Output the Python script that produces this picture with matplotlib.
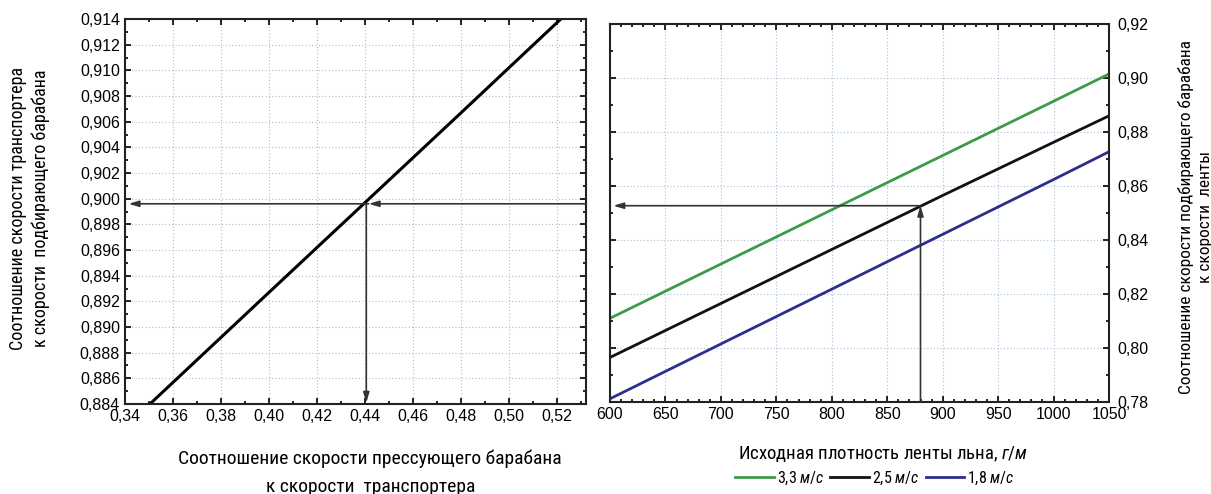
import matplotlib
matplotlib.use('Agg')
import matplotlib.pyplot as plt
from matplotlib import font_manager
from matplotlib.ticker import MultipleLocator, FuncFormatter

# left chart: picker drum / conveyor vs pressing drum / conveyor
ratio_press = [0.3504, 0.40, 0.44, 0.48, 0.5215]
ratio_pick = [0.8840, 0.8927, 0.8997, 0.9067, 0.9140]

# right chart: picker drum / tape vs initial tape density
density = [600, 700, 800, 900, 1000, 1050]
v33 = [0.8110, 0.8311, 0.8512, 0.8713, 0.8914, 0.9015]
v25 = [0.7965, 0.8165, 0.8365, 0.8565, 0.8762, 0.8860]
v18 = [0.7812, 0.8015, 0.8218, 0.8421, 0.8624, 0.8727]
speed_labels = ['3,3 $\\mathit{м/с}$', '2,5 $\\mathit{м/с}$', '1,8 $\\mathit{м/с}$']

# the worked example (arrows)
left_x0, left_y0 = 0.4405, 0.8996
right_x0, right_y0 = 880, 0.8527

# condensed face for the axis titles (looks like Arial Narrow in the original)
names = [f.name for f in font_manager.fontManager.ttflist]
narrow = 'Liberation Sans'
for n in ['Liberation Sans Narrow', 'Arial Narrow', 'Roboto Condensed', 'Archivo Narrow']:
    if n in names:
        narrow = n
        break

plt.rcParams['font.family'] = ['Liberation Sans', 'DejaVu Sans']
plt.rcParams['mathtext.fontset'] = 'custom'
plt.rcParams['mathtext.rm'] = narrow
plt.rcParams['mathtext.it'] = narrow + ':italic'

fig = plt.figure(figsize=(12.11, 4.94), dpi=100)
ax1 = fig.add_axes([0.1032, 0.1822, 0.3807, 0.7793])
ax2 = fig.add_axes([0.5037, 0.1862, 0.4121, 0.7652])

comma = lambda nd: FuncFormatter(lambda v, p: ('%.*f' % (nd, v)).replace('.', ','))
grid_kw = dict(color='#a9bfd6', linestyle=(0, (1, 2)), linewidth=0.8)

for ax in (ax1, ax2):
    ax.tick_params(which='both', direction='in', top=True, right=True, labelsize=11.5, width=1.2)
    ax.tick_params(which='major', length=4)
    ax.tick_params(which='minor', length=2.5)
    for s in ax.spines.values():
        s.set_linewidth(1.5)
        s.set_color('#222222')
    ax.grid(True, which='major', **grid_kw)
    ax.set_axisbelow(True)

arrow = dict(arrowstyle='-|>,head_length=0.6,head_width=0.18', color='#333333', lw=1.2,
             shrinkA=0, shrinkB=0)

# left
ax1.plot(ratio_press, ratio_pick, color='black', lw=2.2)
ax1.set_xlim(0.34, 0.532)
ax1.set_ylim(0.884, 0.914)
ax1.xaxis.set_major_locator(MultipleLocator(0.02))
ax1.xaxis.set_minor_locator(MultipleLocator(0.01))
ax1.yaxis.set_major_locator(MultipleLocator(0.002))
ax1.yaxis.set_minor_locator(MultipleLocator(0.001))
ax1.xaxis.set_major_formatter(comma(2))
ax1.yaxis.set_major_formatter(comma(3))
ax1.annotate('', xy=(left_x0 + 0.001, left_y0), xytext=(0.532, left_y0), arrowprops=arrow)
ax1.annotate('', xy=(0.3415, left_y0), xytext=(left_x0 + 0.001, left_y0), arrowprops=arrow)
ax1.annotate('', xy=(left_x0, 0.8841), xytext=(left_x0, left_y0), arrowprops=arrow)
ax1.set_xlabel('Соотношение скорости прессующего барабана\nк скорости  транспортера',
               fontsize=14, family=narrow, linespacing=1.7)
ax1.xaxis.set_label_coords(0.532, -0.118)
ax1.xaxis.label.set_va('top')
ax1.set_ylabel('Соотношение скорости транспортера\nк скорости  подбирающего барабана',
               fontsize=13, family=narrow, linespacing=1.3)
ax1.yaxis.set_label_coords(-0.162, 0.509)

# right
colors = ['#3d9a48', '#111111', '#2d2d8f']
for vals, c, lab in zip([v33, v25, v18], colors, speed_labels):
    ax2.plot(density, vals, color=c, lw=2, label=lab)
ax2.set_xlim(600, 1050)
ax2.set_ylim(0.78, 0.92)
ax2.xaxis.set_major_locator(MultipleLocator(50))
ax2.xaxis.set_minor_locator(MultipleLocator(10))
ax2.yaxis.set_major_locator(MultipleLocator(0.02))
ax2.yaxis.set_minor_locator(MultipleLocator(0.01))
ax2.yaxis.set_major_formatter(comma(2))
ax2.yaxis.tick_right()
ax2.tick_params(which='both', left=True, labelleft=False, labelright=True)
ax2.tick_params(axis='y', pad=6)
ax2.annotate('', xy=(right_x0, right_y0), xytext=(right_x0, 0.78), arrowprops=arrow)
ax2.annotate('', xy=(603, right_y0), xytext=(right_x0, right_y0), arrowprops=arrow)
ax2.set_xlabel('Исходная плотность ленты льна, $\\mathit{г/м}$', fontsize=13.5, family=narrow)
ax2.xaxis.set_label_coords(0.548, -0.11)
ax2.yaxis.set_label_position('right')
ax2.set_ylabel('Соотношение скорости подбирающего барабана\nк скорости  ленты',
               fontsize=12.5, family=narrow, linespacing=1.35, rotation=90)
ax2.yaxis.set_label_coords(1.138, 0.49)

fig.legend(*ax2.get_legend_handles_labels(), loc='center', bbox_to_anchor=(0.7225, 0.032),
           ncol=3, frameon=False, handlelength=2.4, handletextpad=0.2,
           columnspacing=0.4, prop={'family': narrow, 'size': 11.5})

fig.savefig('out.png', dpi=100)
